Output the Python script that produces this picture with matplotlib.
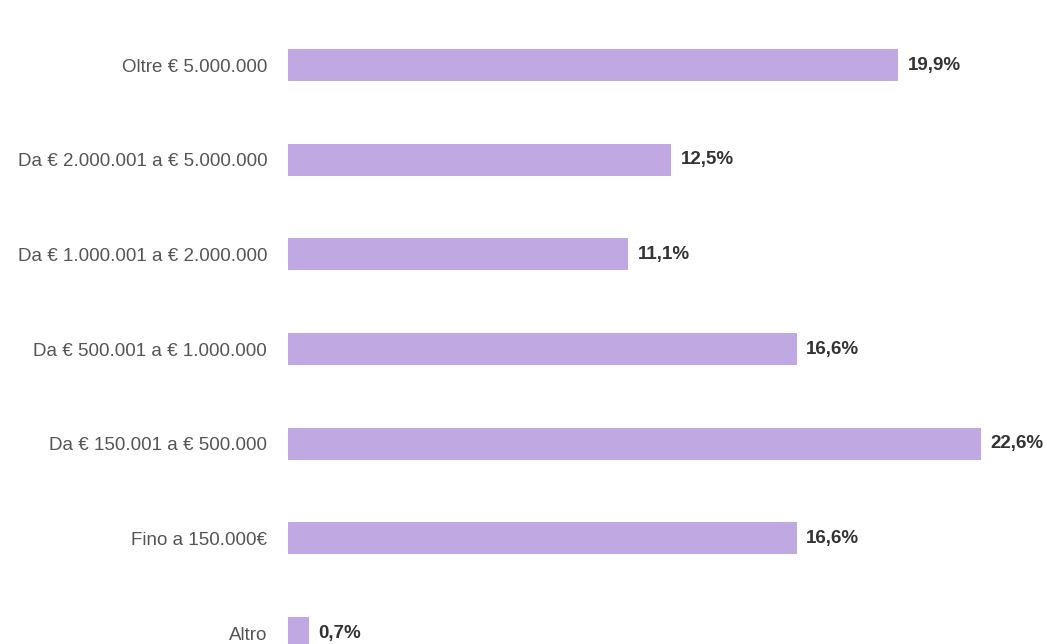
import matplotlib.pyplot as plt

categories = ['Oltre € 5.000.000', 'Da € 2.000.001 a € 5.000.000', 'Da € 1.000.001 a € 2.000.000',
              'Da € 500.001 a € 1.000.000', 'Da € 150.001 a € 500.000', 'Fino a 150.000€', 'Altro']
values = [19.9, 12.5, 11.1, 16.6, 22.6, 16.6, 0.7]
value_labels = ['19,9%', '12,5%', '11,1%', '16,6%', '22,6%', '16,6%', '0,7%']

plt.rcParams['font.family'] = ['Liberation Sans', 'DejaVu Sans']

fig = plt.figure(figsize=(10.47, 6.44), dpi=100)
ax = fig.add_axes([288 / 1047, 0, 1 - 288 / 1047, 1])

pos = list(range(len(categories)))
ax.barh(pos, values, height=0.34, color='#c0a9e3', edgecolor='none')

for p, v, lab in zip(pos, values, value_labels):
    ax.text(v + 0.3, p, lab, va='center', ha='left', fontsize=13.5, fontweight='bold', color='#333333')

ax.set_yticks(pos)
ax.set_yticklabels(categories, fontsize=13.5, color='#555555')
ax.tick_params(axis='y', length=0, pad=15)
ax.set_xticks([])
ax.set_xlim(0, 24.75)
ax.set_ylim(6.116, -0.687)
for s in ax.spines.values():
    s.set_visible(False)

fig.savefig('out.png', dpi=100, facecolor='white')
